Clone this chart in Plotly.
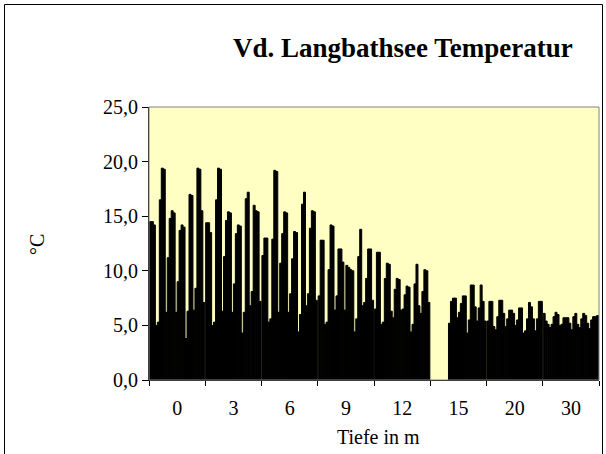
import plotly.graph_objects as go

# Depth categories (x axis)
depths = ["0", "3", "6", "9", "12", "15", "20", "30"]

# Temperature (°C) per sampling date (28 dates) for each depth
t0 = [14.5, 14.5, 14.2, 5.0, 5.3, 16.5, 19.4, 19.3, 6.2, 11.2, 14.8, 15.5, 15.3, 6.2,
      9.0, 13.7, 14.2, 14.0, 3.8, 6.3, 17.0, 16.9, 6.4, 8.4, 19.4, 19.3, 15.5, 7.1]
t3 = [14.4, 14.4, 13.5, 5.0, 5.3, 16.5, 19.4, 19.3, 6.3, 11.3, 14.6, 15.4, 15.3, 6.2,
      8.8, 13.4, 14.2, 14.1, 4.3, 6.2, 16.6, 17.2, 6.8, 8.1, 16.0, 15.5, 15.4, 7.2]
t6 = [11.4, 13.0, 13.0, 5.3, 5.6, 12.9, 19.2, 19.1, 6.2, 10.7, 13.4, 15.4, 15.3, 6.2,
      7.9, 11.1, 13.6, 13.5, 4.4, 6.0, 16.1, 17.2, 6.8, 7.9, 13.9, 15.5, 15.4, 7.3]
t9 = [7.7, 12.8, 12.8, 5.1, 5.3, 10.1, 14.2, 14.1, 6.4, 7.7, 12.0, 12.0, 10.8, 6.4,
      10.5, 10.3, 10.1, 10.0, 4.4, 5.6, 11.3, 13.8, 6.8, 7.1, 9.3, 12.0, 12.0, 7.3]
t12 = [6.5, 11.7, 11.7, 5.1, 5.3, 9.3, 10.7, 10.6, 6.3, 5.7, 8.3, 9.3, 9.2, 6.4,
       6.5, 7.8, 8.6, 8.5, 4.4, 5.1, 8.8, 10.6, 6.8, 6.1, 8.1, 10.1, 10.0, 7.1]
t15 = [None, None, None, None, None, None, None, None, None, 5.2, 7.2, 7.5, 7.5, 5.7,
       6.2, 7.0, 7.7, 7.7, 4.3, 5.5, 8.7, 8.7, 6.7, 5.4, 6.6, 8.7, 7.2, 5.4]
t20 = [5.4, 7.2, 7.2, 4.9, 4.6, 5.8, 7.3, 7.3, 6.1, 4.9, 5.6, 6.4, 6.4, 6.1,
       5.0, 5.5, 6.6, 6.6, 4.3, 4.5, 5.6, 7.1, 6.7, 5.6, 4.5, 5.6, 7.2, 7.2]
t30 = [6.1, 5.4, 5.1, 4.8, 5.1, 5.8, 6.2, 6.0, 5.0, 5.1, 5.7, 5.7, 5.7, 5.2,
       4.6, 5.8, 6.1, 5.1, 4.8, 5.6, 6.1, 5.9, 5.2, 4.7, 5.5, 5.8, 5.8, 5.9]

profiles = [t0, t3, t6, t9, t12, t15, t20, t30]
n_dates = len(t0)

y_ticks = [0, 5, 10, 15, 20, 25]

FONT = "Liberation Serif, Times New Roman, serif"

fig = go.Figure()
for i in range(n_dates):
    fig.add_trace(go.Bar(
        x=depths,
        y=[p[i] for p in profiles],
        marker=dict(color="#000000", line=dict(color="#000000", width=1)),
        showlegend=False,
        hoverinfo="x+y",
    ))

W, H = 606, 454
L, R, T, B = 149, 7, 107, 74
pw, ph = W - L - R, H - T - B

def px2x(px):
    return (px - L) / pw

def py2y(py):
    return (H - B - py) / ph

fig.update_layout(
    width=W, height=H,
    margin=dict(l=L, r=R, t=T, b=B, pad=0),
    paper_bgcolor="#ffffff",
    plot_bgcolor="#ffffc4",
    barmode="group",
    bargap=0.015,
    bargroupgap=0,
    separators=", ",
    font=dict(family=FONT, size=20, color="#000000"),
    xaxis=dict(
        type="category",
        categoryorder="array", categoryarray=depths,
        showline=True, linecolor="#000000", linewidth=1,
        ticks="outside", ticklen=5, tickcolor="#000000", tickson="boundaries",
        ticklabelstandoff=10,
        showgrid=False, zeroline=False,
        tickfont=dict(family=FONT, size=20),
    ),
    yaxis=dict(
        range=[0, 25],
        tickvals=y_ticks,
        tickformat=".1f",
        showline=True, linecolor="#000000", linewidth=1,
        ticks="outside", ticklen=6, tickcolor="#000000",
        showgrid=False, zeroline=False,
        tickfont=dict(family=FONT, size=20),
    ),
    shapes=[
        # plot area border
        dict(type="rect", xref="paper", yref="paper", x0=0, y0=0, x1=1, y1=1,
             line=dict(color="#808080", width=1), layer="above"),
        # chart outer frame
        dict(type="rect", xref="paper", yref="paper",
             x0=px2x(4.5), x1=px2x(602.5), y0=py2y(470), y1=py2y(4.5),
             line=dict(color="#000000", width=1), layer="above"),
    ],
    annotations=[
        dict(text="<b>Vd. Langbathsee Temperatur</b>", xref="paper", yref="paper",
             x=px2x(403), y=py2y(48), xanchor="center", yanchor="middle",
             showarrow=False, font=dict(family=FONT, size=27, color="#000000")),
        dict(text="°C", xref="paper", yref="paper", textangle=-90,
             x=px2x(37), y=py2y(245), xanchor="center", yanchor="middle",
             showarrow=False, font=dict(family=FONT, size=20, color="#000000")),
        dict(text="Tiefe in m", xref="paper", yref="paper",
             x=px2x(378), y=py2y(437), xanchor="center", yanchor="middle",
             showarrow=False, font=dict(family=FONT, size=20, color="#000000")),
    ],
)

fig.write_html("out.html", config={"displayModeBar": False},
               post_script="document.body.style.margin='0';")
